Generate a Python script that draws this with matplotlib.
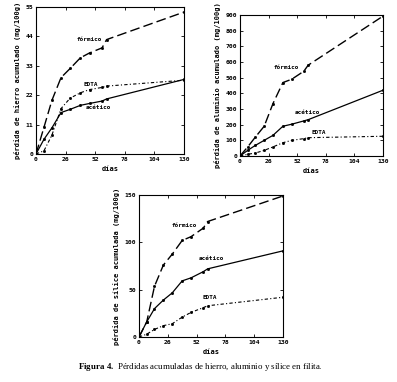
import matplotlib
matplotlib.use("Agg")
import matplotlib.pyplot as plt

plt.rcParams["mathtext.fontset"] = "custom"
plt.rcParams["mathtext.rm"] = "Liberation Serif"
plt.rcParams["mathtext.bf"] = "Liberation Serif:bold"

# muestreo (días)
dias = [0, 7, 14, 22, 30, 39, 47, 58, 62, 130]

# hierro (mg/100g)
fe_formico = [0, 10, 20.1, 28.6, 32.0, 36.0, 37.8, 39.7, 42.8, 53.1]
fe_acetico = [0, 5.5, 9.8, 15.5, 16.7, 18.2, 18.9, 19.8, 20.6, 27.9]
fe_edta = [0, 1.2, 7.1, 17.0, 20.9, 22.9, 24.1, 24.9, 25.4, 27.6]

# aluminio (mg/100g)
al_formico = [0, 58, 121, 190, 335, 469, 490, 541, 580, 893]
al_acetico = [0, 36, 68, 100, 132, 190, 203, 224, 232, 420]
al_edta = [0, 11, 19, 36, 58, 85, 100, 111, 117, 126]

# sílice (mg/100g)
si_formico = [0, 16, 53.6, 76, 87.5, 102, 106, 115, 122, 149]
si_acetico = [0, 16, 30, 39, 46.6, 59.3, 62.5, 69, 72, 91]
si_edta = [0, 3, 8, 12, 14, 21, 26, 31, 33, 42]

xticks = [0, 26, 52, 78, 104, 130]
mono = dict(family="DejaVu Sans Mono", fontweight="bold")

fig = plt.figure(figsize=(3.97, 3.82), dpi=100)


def panel(rect, formico, acetico, edta, ymax, yticks, ylabel, labels):
    ax = fig.add_axes(rect)
    ax.plot(dias, formico, color="k", lw=1.0, ls=(0, (7, 3)), marker="s", ms=1.0)
    ax.plot(dias, acetico, color="k", lw=0.9, ls="-", marker="s", ms=1.0)
    ax.plot(dias, edta, color="k", lw=0.8, ls=(0, (3, 2, 1, 2)), marker="s", ms=1.0)
    ax.set_xlim(0, 130)
    ax.set_ylim(0, ymax)
    ax.set_xticks(xticks)
    ax.set_yticks(yticks)
    ax.tick_params(direction="in", length=2.5, width=0.6, top=True, right=True,
                   labelsize=4.6, pad=2)
    for t in ax.get_xticklabels() + ax.get_yticklabels():
        t.set_family("DejaVu Sans Mono")
        t.set_fontweight("bold")
    ax.set_xlabel("días", fontsize=5, labelpad=3, **mono)
    ax.set_ylabel(ylabel, fontsize=5, labelpad=3, **mono)
    for sp in ax.spines.values():
        sp.set_linewidth(0.8)
    for txt, (x, y) in labels.items():
        ax.text(x, y, txt, fontsize=4.3, ha="center", va="center", **mono)
    return ax


panel([0.0907, 0.5969, 0.3728, 0.3848], fe_formico, fe_acetico, fe_edta,
      55, [0, 11, 22, 33, 44, 55], "pérdida de hierro acumulado (mg/100g)",
      {"fórmico": (47, 42.8), "EDTA": (48, 26.1), "acético": (55, 17.4)})

panel([0.6045, 0.5916, 0.3602, 0.369], al_formico, al_acetico, al_edta,
      900, list(range(0, 901, 100)), "pérdida de aluminio acumulado (mg/100g)",
      {"fórmico": (42, 563), "acético": (61, 275), "EDTA": (72, 153)})

panel([0.3501, 0.1178, 0.3627, 0.3717], si_formico, si_acetico, si_edta,
      150, [0, 50, 100, 150], "pérdida de sílice acumulada (mg/100g)",
      {"fórmico": (40.5, 117.5), "acético": (65.6, 82.6), "EDTA": (64, 42)})

fig.text(0.505, 0.04, r"$\mathbf{Figura\ 4.}$ Pérdidas acumuladas de hierro, aluminio y sílice en filita.",
         ha="center", va="center", fontsize=6.4, family="Liberation Serif")

fig.savefig("out.png", dpi=100)
